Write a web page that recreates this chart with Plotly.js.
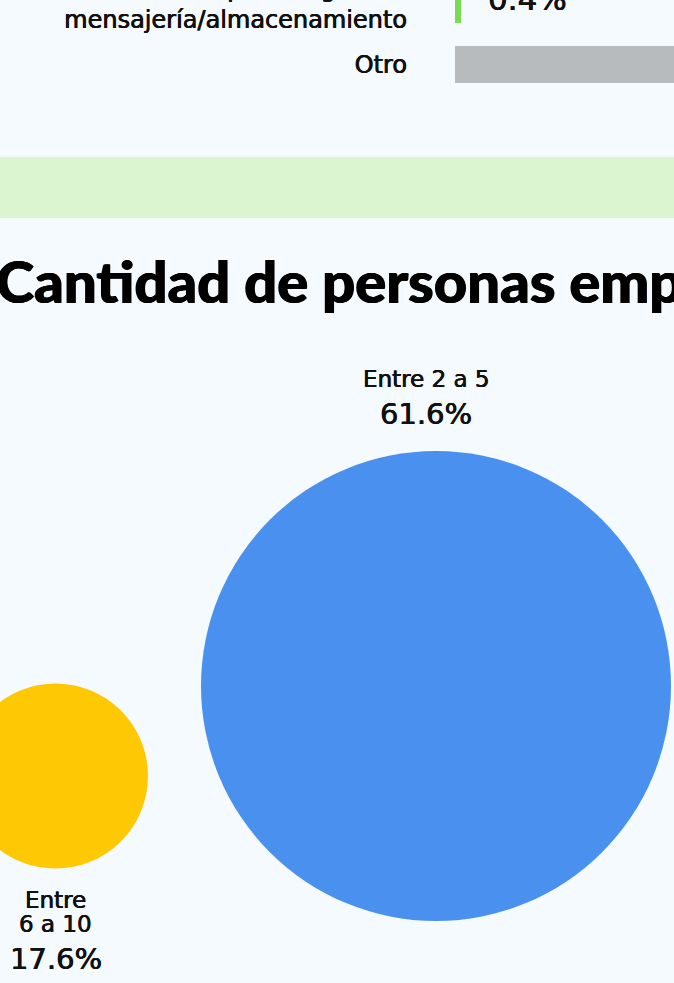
<!DOCTYPE html>
<html>
<head>
<meta charset="utf-8">
<script src="https://cdn.plot.ly/plotly-3.0.1.min.js"></script>
<style>
  html, body { margin: 0; padding: 0; background: #F5FAFE; }
  #chart { width: 674px; height: 983px; }
  #chart text { font-variant-ligatures: none; }
</style>
</head>
<body>
<div id="chart"></div>
<script>
// ---- Data: sector bar chart (visible tail) ----
const sectorLabels = ["Transporte/logística/<br>mensajería/almacenamiento", "Otro"];
const sectorValues = [0.4, 18.9];
const sectorValueText = ["0.4%", "18.9%"];

// ---- Data: employees bubble chart ----
const sizeCategories = ["Entre 2 a 5", "Entre<br>6 a 10"];
const sizeValues = [61.6, 17.6];
const sizeValueText = ["61.6%", "17.6%"];
const sectionTitle = "Cantidad de personas empleadas";

// ---- Style / layout constants ----
const sectorColors = ["#77DD50", "#B8BBBE"];
const bubbleColors = ["#4A90EE", "#FFC805"];
const bubbleDiameters = [470, 185];
const bubbleCx = [436, 55.5];
const bubbleCy = [686, 776];
// [xshift, first label line yshift, line step, value yshift]
const labelOffsets = [[-10, 307, 24, 272], [0, -123.5, 24, -183]];
const W = 674, H = 983;
const FONT = "DejaVu Sans, Noto Sans, sans-serif";
const BOLDEN = "0.35px 0 0 #111111, -0.35px 0 0 #111111";

const barTrace = {
  type: "bar",
  orientation: "h",
  x: sectorValues,
  y: sectorLabels,
  marker: { color: sectorColors },
  width: 0.617,
  xaxis: "x",
  yaxis: "y",
  hoverinfo: "skip",
  showlegend: false
};

const bubbleTrace = {
  type: "scatter",
  mode: "markers",
  x: bubbleCx,
  y: bubbleCy,
  marker: { size: bubbleDiameters, color: bubbleColors, line: { width: 0 }, opacity: 1 },
  xaxis: "x2",
  yaxis: "y2",
  cliponaxis: false,
  hoverinfo: "skip",
  showlegend: false
};

const annotations = [];
for (let i = 0; i < sectorValues.length; i++) {
  annotations.push({
    xref: "x", yref: "y", x: sectorValues[i], y: sectorLabels[i],
    text: sectorValueText[i], showarrow: false, xanchor: "left", yanchor: "middle",
    xshift: 25, yshift: 6,
    font: { family: FONT, size: 31, color: "#111111", shadow: BOLDEN }
  });
}

// Section title
annotations.push({
  xref: "paper", yref: "paper", x: -6 / W, y: 1 - 280 / H,
  text: sectionTitle, showarrow: false,
  xanchor: "left", yanchor: "middle",
  font: { family: "Lato, Noto Sans, sans-serif", size: 58, weight: 900, color: "#000000",
          shadow: "0.6px 0 0 #000000, -0.6px 0 0 #000000" }
});

// Bubble labels (each line separately for tight line spacing)
for (let i = 0; i < sizeCategories.length; i++) {
  const lines = sizeCategories[i].split("<br>");
  lines.forEach((ln, k) => {
    annotations.push({
      xref: "x2", yref: "y2", x: bubbleCx[i], y: bubbleCy[i],
      text: ln, showarrow: false, xanchor: "center", yanchor: "middle",
      xshift: labelOffsets[i][0], yshift: labelOffsets[i][1] - k * labelOffsets[i][2],
      font: { family: FONT, size: 23, color: "#111111", shadow: BOLDEN }
    });
  });
  annotations.push({
    xref: "x2", yref: "y2", x: bubbleCx[i], y: bubbleCy[i],
    text: sizeValueText[i], showarrow: false, xanchor: "center", yanchor: "middle",
    xshift: labelOffsets[i][0], yshift: labelOffsets[i][3],
    font: { family: FONT, size: 29, color: "#111111", shadow: BOLDEN }
  });
}

const layout = {
  width: W, height: H,
  margin: { l: 0, r: 0, t: 0, b: 0, pad: 0 },
  paper_bgcolor: "#F5FAFE",
  plot_bgcolor: "rgba(0,0,0,0)",
  font: { family: FONT, color: "#111111" },
  showlegend: false,
  bargap: 0,
  xaxis: {
    domain: [455 / W, 1], range: [0, 14.6],
    showgrid: false, zeroline: false, showline: false, showticklabels: false, fixedrange: true
  },
  yaxis: {
    domain: [1 - 120 / H, 1], range: [1.925, -0.075], type: "category",
    showgrid: false, zeroline: false, showline: false, ticks: "",
    ticklabelstandoff: 47,
    tickfont: { family: FONT, size: 24, color: "#111111", shadow: BOLDEN },
    fixedrange: true
  },
  xaxis2: {
    domain: [0, 1], range: [0, W], anchor: "y2",
    visible: false, fixedrange: true
  },
  yaxis2: {
    domain: [0, 1 - 330 / H], range: [H, 330], anchor: "x2",
    visible: false, fixedrange: true
  },
  shapes: [{
    type: "rect", xref: "paper", yref: "paper",
    x0: 0, x1: 1, y0: 1 - 218 / H, y1: 1 - 157 / H,
    fillcolor: "#DBF5D0", line: { width: 0 }, layer: "below"
  }],
  annotations: annotations
};

Plotly.newPlot("chart", [barTrace, bubbleTrace], layout, { displayModeBar: false, staticPlot: true });
</script>
</body>
</html>
